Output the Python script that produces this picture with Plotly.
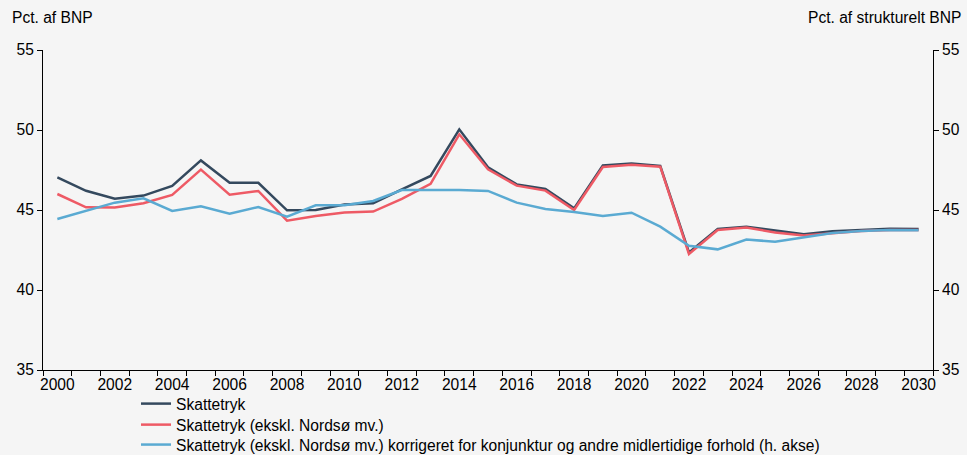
import plotly.graph_objects as go

years = list(range(2000, 2031))
skattetryk = [47.04, 46.2, 45.7, 45.9, 46.5, 48.1, 46.7, 46.7, 44.98, 45.0, 45.35,
              45.42, 46.29, 47.13, 50.04, 47.67, 46.6, 46.31, 45.1, 47.79, 47.9,
              47.75, 42.35, 43.81, 43.96, 43.71, 43.48, 43.67, 43.75, 43.83, 43.81]
ekskl_nordsoe = [46.0, 45.17, 45.15, 45.42, 45.94, 47.52, 45.96, 46.19, 44.33, 44.63, 44.85,
                 44.9, 45.69, 46.63, 49.73, 47.54, 46.52, 46.21, 45.0, 47.69, 47.83,
                 47.71, 42.25, 43.75, 43.9, 43.6, 43.4, 43.56, 43.69, 43.75, 43.75]
korrigeret = [44.44, 44.96, 45.46, 45.73, 44.94, 45.23, 44.77, 45.19, 44.58, 45.29, 45.29,
              45.56, 46.25, 46.25, 46.25, 46.19, 45.46, 45.06, 44.88, 44.63, 44.83,
              43.96, 42.77, 42.54, 43.15, 43.02, 43.27, 43.56, 43.69, 43.75, 43.73]

names = ["Skattetryk",
         "Skattetryk (ekskl. Nordsø mv.)",
         "Skattetryk (ekskl. Nordsø mv.) korrigeret for konjunktur og andre midlertidige forhold (h. akse)"]
colors = ["#34495e", "#ee5a65", "#5aaad2"]
y_ticks = [35, 40, 45, 50, 55]
x_tick_labels = [str(y) for y in range(2000, 2031, 2)]

fig = go.Figure()
fig.add_trace(go.Scatter(x=years, y=skattetryk, name=names[0], mode="lines", legend="legend",
                         line=dict(color=colors[0], width=2.5)))
fig.add_trace(go.Scatter(x=years, y=ekskl_nordsoe, name=names[1], mode="lines", legend="legend2",
                         line=dict(color=colors[1], width=2.5)))
fig.add_trace(go.Scatter(x=years, y=korrigeret, name=names[2], mode="lines", yaxis="y2",
                         legend="legend3", line=dict(color=colors[2], width=2.5)))

font = dict(family="Liberation Sans, Arial, sans-serif", size=15.6, color="#000000")


def leg(y):
    return dict(x=0.1045, y=y, xanchor="left", yanchor="top", orientation="v",
                bgcolor="rgba(0,0,0,0)", font=font, itemwidth=30)


fig.update_layout(
    width=967, height=455,
    margin=dict(l=43, r=34, t=50, b=85, autoexpand=False),
    paper_bgcolor="#f5f5f5", plot_bgcolor="#f5f5f5",
    font=font,
    showlegend=True,
    legend=leg(-0.053),
    legend2=leg(-0.1187),
    legend3=leg(-0.181),
    xaxis=dict(range=[1999.5, 2030.5], tickvals=[int(t) for t in x_tick_labels],
               ticktext=x_tick_labels, ticks="", showgrid=False, zeroline=False,
               showline=True, linecolor="#000000", linewidth=1,
               minor=dict(tick0=1999.5, dtick=1, ticks="outside", ticklen=5,
                          tickcolor="#000000", showgrid=False)),
    yaxis=dict(range=[35, 55], tickvals=y_ticks, ticks="outside", ticklen=5,
               tickcolor="#000000", showgrid=False, zeroline=False, showline=True,
               linecolor="#000000", linewidth=1),
    yaxis2=dict(range=[35, 55], tickvals=y_ticks, ticks="outside", ticklen=5,
                tickcolor="#000000", showgrid=False, zeroline=False, showline=True,
                linecolor="#000000", linewidth=1, overlaying="y", side="right"),
)
fig.add_annotation(text="Pct. af BNP", xref="paper", yref="paper", x=-0.037, y=1.1,
                   xanchor="left", yanchor="middle", showarrow=False, font=font)
fig.add_annotation(text="Pct. af strukturelt BNP", xref="paper", yref="paper", x=1.034, y=1.1,
                   xanchor="right", yanchor="middle", showarrow=False, font=font)
fig.write_html("out.html", config={"displayModeBar": False},
               post_script="document.body.style.margin='0';document.body.style.background='#f5f5f5';")
